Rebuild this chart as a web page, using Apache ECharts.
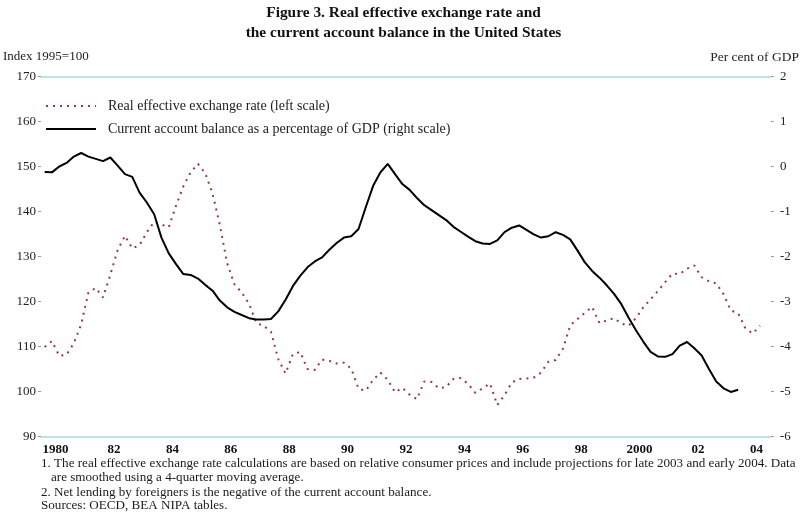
<!DOCTYPE html>
<html><head><meta charset="utf-8">
<script src="https://cdn.jsdelivr.net/npm/echarts/dist/echarts.min.js"></script>
<style>html,body{margin:0;padding:0;background:#fff}#c{width:807px;height:514px}</style>
</head><body><div id="c"></div>
<script>
// Year tick labels (one category per year, labels shown every other year)
const yearLabels = ['1980','81','82','83','84','85','86','87','88','89','90','91','92','93','94','95','96','97','98','99','2000','01','02','03','04'];
// Quarterly categories used to place the data
const quarters = [];
for (let y = 1980; y <= 2004; y++) for (let q = 1; q <= 4; q++) quarters.push(y + 'Q' + q);

// Real effective exchange rate, index 1995=100 (left scale), 1980Q1 - 2004Q3
const reer = [
  109.9, 111.2, 107.9, 108.2,
  110.7, 114.9, 122.0, 123.0,
  120.9, 126.0, 131.4, 134.6,
  131.8, 132.5, 135.4, 137.7,
  137.1, 136.5, 141.3, 145.6,
  148.7, 150.6, 148.5, 144.0,
  137.0, 128.5, 123.8, 122.0,
  119.5, 115.2, 114.6, 113.3,
  107.2, 104.0, 108.3, 108.8,
  105.0, 104.8, 107.1, 106.8,
  106.2, 106.4, 105.1, 100.6,
  100.2, 102.6, 104.2, 102.6,
  99.8, 100.8, 99.3, 98.3,
  102.2, 102.1, 100.7, 101.0,
  102.8, 103.0, 101.7, 99.7,
  100.7, 101.8, 97.0, 99.2,
  102.0, 102.8, 102.9, 103.1,
  104.2, 106.6, 107.0, 109.5,
  114.7, 116.1, 117.5, 118.8,
  115.2, 115.8, 116.3, 115.1,
  114.6, 116.3, 118.7, 120.5,
  122.3, 124.3, 126.2, 126.1,
  127.3, 128.0, 125.4, 124.5,
  124.0, 121.6, 118.0, 117.4,
  114.0, 112.9, 114.6
];
// Current account balance, per cent of GDP (right scale), 1980Q1 - 2003Q4
const currentAccount = [
  -0.12, -0.13, 0.00, 0.08,
  0.22, 0.30, 0.22, 0.17,
  0.12, 0.20, 0.02, -0.17,
  -0.23, -0.58, -0.80, -1.06,
  -1.58, -1.93, -2.17, -2.39,
  -2.41, -2.49, -2.63, -2.76,
  -2.98, -3.13, -3.23, -3.30,
  -3.37, -3.40, -3.40, -3.39,
  -3.22, -2.96, -2.66, -2.43,
  -2.24, -2.11, -2.02, -1.85,
  -1.70, -1.58, -1.55, -1.39,
  -0.90, -0.43, -0.13, 0.06,
  -0.17, -0.39, -0.52, -0.70,
  -0.86, -0.97, -1.08, -1.19,
  -1.34, -1.45, -1.56, -1.66,
  -1.71, -1.72, -1.64, -1.46,
  -1.36, -1.31, -1.41, -1.51,
  -1.58, -1.55, -1.46, -1.52,
  -1.62, -1.87, -2.13, -2.32,
  -2.47, -2.64, -2.83, -3.06,
  -3.36, -3.64, -3.89, -4.12,
  -4.22, -4.23, -4.17, -3.98,
  -3.90, -4.04, -4.20, -4.50,
  -4.78, -4.93, -5.01, -4.96
];
const seriesNames = ['Real effective exchange rate (left scale)', 'Current account balance as a percentage of GDP (right scale)'];
const titleText = 'Figure 3. Real effective exchange rate and\nthe current account balance in the United States';
const footnotes = [
  '1. The real effective exchange rate calculations are based on relative consumer prices and include projections for late 2003 and early 2004. Data',
  'are smoothed using a 4-quarter moving average.',
  '2. Net lending by foreigners is the negative of the current account balance.',
  'Sources: OECD, BEA NIPA tables.'
];

const FONT = 'Liberation Serif';
const chart = echarts.init(document.getElementById('c'), null, {renderer: 'canvas'});
const noteStyle = {fontFamily: FONT, fontSize: 13.1, fontWeight: 'normal', color: '#1a1a1a'};
chart.setOption({
  animation: false,
  backgroundColor: '#fff',
  textStyle: {fontFamily: FONT},
  title: [
    {text: titleText, left: 'center', top: 3, padding: 0,
     textStyle: {fontFamily: FONT, fontWeight: 'bold', fontSize: 15.4, lineHeight: 20, color: '#111'}},
    {text: 'Index 1995=100', left: 3, top: 50, padding: 0, textStyle: {fontFamily: FONT, fontWeight: 'normal', fontSize: 13, color: '#222'}},
    {text: 'Per cent of GDP', right: 8, top: 50, padding: 0, textStyle: {fontFamily: FONT, fontWeight: 'normal', fontSize: 13.5, color: '#222'}},
    {text: footnotes[0], left: 41, top: 457, padding: 0, textStyle: noteStyle},
    {text: footnotes[1], left: 51, top: 471, padding: 0, textStyle: noteStyle},
    {text: footnotes[2], left: 41, top: 486, padding: 0, textStyle: noteStyle},
    {text: footnotes[3], left: 41, top: 499, padding: 0, textStyle: noteStyle}
  ],
  legend: {
    orient: 'vertical', left: 40, top: 94, itemWidth: 50, itemHeight: 14, itemGap: 9,
    itemStyle: {opacity: 0, borderWidth: 0},
    textStyle: {fontFamily: FONT, fontSize: 14, color: '#222', padding: [0, 0, 0, 7]},
    data: seriesNames
  },
  grid: {left: 41, right: 36, top: 76.5, bottom: 77.5, containLabel: false},
  xAxis: [
    {type: 'category', data: yearLabels, boundaryGap: true, position: 'bottom',
     axisLine: {onZero: false, lineStyle: {color: '#a9d9e3', width: 1.5}},
     axisTick: {inside: true, length: 3, interval: 0, lineStyle: {color: '#777'}},
     axisLabel: {interval: 1, margin: 7, fontFamily: FONT, fontWeight: 'bold', fontSize: 13, color: '#111'},
     splitLine: {show: false}},
    {type: 'category', data: quarters, boundaryGap: true, position: 'top',
     axisLine: {onZero: false, lineStyle: {color: '#a9d9e3', width: 1.5}},
     axisTick: {show: false}, axisLabel: {show: false}, splitLine: {show: false}}
  ],
  yAxis: [
    {type: 'value', min: 90, max: 170, interval: 10, position: 'left',
     axisLine: {show: false}, axisTick: {show: true, length: 3, lineStyle: {color: '#999'}},
     axisLabel: {margin: 5, fontFamily: FONT, fontSize: 13, color: '#222'}, splitLine: {show: false}},
    {type: 'value', min: -6, max: 2, interval: 1, position: 'right',
     axisLine: {show: false}, axisTick: {show: true, length: 3, lineStyle: {color: '#999'}},
     axisLabel: {margin: 9, fontFamily: FONT, fontSize: 13, color: '#222'}, splitLine: {show: false}}
  ],
  series: [
    {name: seriesNames[0], type: 'line', xAxisIndex: 1, yAxisIndex: 0, data: reer,
     symbol: 'none', lineStyle: {color: '#943c3a', width: 2, type: [2, 5], cap: 'butt'},
     itemStyle: {color: '#943c3a'}},
    {name: seriesNames[1], type: 'line', xAxisIndex: 1, yAxisIndex: 1, data: currentAccount,
     symbol: 'none', lineStyle: {color: '#000', width: 2}, itemStyle: {color: '#000'}}
  ]
});
</script></body></html>
